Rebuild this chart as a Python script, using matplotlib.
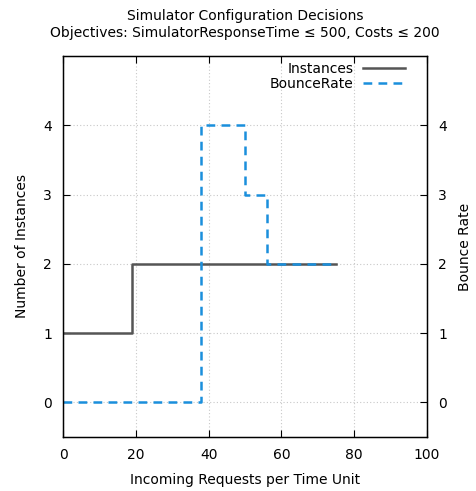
import matplotlib
matplotlib.use("Agg")
import matplotlib.pyplot as plt

inst_x = [0, 19, 75]
inst_y = [1, 2, 2]
br_x = [0, 38, 50, 56, 75]
br_y = [0, 4, 3, 2, 2]
xticks = [0, 20, 40, 60, 80, 100]
yticks = [0, 1, 2, 3, 4]

fig = plt.figure(figsize=(4.76, 4.91), dpi=100)
ax = fig.add_axes([0.1324, 0.110, 0.897 - 0.1324, 0.886 - 0.110])
ax.step(inst_x, inst_y, where="post", color="#555555", lw=1.8, label="Instances")
ax.step(br_x, br_y, where="post", color="#1a8fdc", lw=1.8, ls=(0, (3.5, 2.5)), label="BounceRate")
ax.set_xlim(0, 100)
ax.set_ylim(-0.5, 5)
ax.set_xticks(xticks)
ax.set_yticks(yticks)
ax.grid(True, color="#c8c8c8", ls=(0, (1, 2)), lw=0.8)
ax.tick_params(direction="in", top=True, labelsize=10, length=5, pad=8)
for s in ax.spines.values():
    s.set_linewidth(1.0)
ax.set_xlabel("Incoming Requests per Time Unit", fontsize=10, labelpad=8)
ax.set_ylabel("Number of Instances", fontsize=10, labelpad=10)
ax2 = ax.twinx()
ax2.set_ylim(ax.get_ylim())
ax2.set_yticks(yticks)
ax2.tick_params(direction="in", labelsize=10, length=5, pad=8)
ax2.set_ylabel("Bounce Rate", fontsize=10, labelpad=8)
ax.set_title("Simulator Configuration Decisions\nObjectives: SimulatorResponseTime \u2264 500, Costs \u2264 200",
             fontsize=10, pad=14)
leg = ax.legend(loc="upper right", bbox_to_anchor=(0.955, 1.0), frameon=False, markerfirst=False,
                fontsize=10, handlelength=3.0, borderpad=0.1, labelspacing=0.1, handletextpad=0.7,
                borderaxespad=0.3)
for t in leg.get_texts():
    t.set_ha("right")
fig.savefig("out.png", dpi=100)
